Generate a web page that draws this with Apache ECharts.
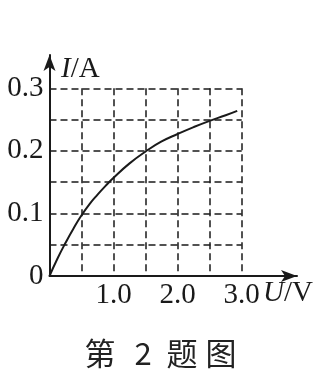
<!DOCTYPE html>
<html>
<head>
<meta charset="utf-8">
<script src="https://cdn.jsdelivr.net/npm/echarts@6/dist/echarts.min.js"></script>
<style>html,body{margin:0;padding:0;background:#fff;}#c{width:321px;height:375px;}</style>
</head>
<body>
<div id="c"></div>
<script>
// Data
const voltage = [0, 0.125, 0.25, 0.375, 0.5, 0.625, 0.75, 0.875, 1.0, 1.25, 1.5, 1.75, 2.0, 2.25, 2.5, 2.75, 2.93];
const current = [0, 0.028, 0.053, 0.076, 0.097, 0.115, 0.13, 0.144, 0.157, 0.18, 0.199, 0.215, 0.227, 0.238, 0.248, 0.257, 0.264];
const xTickLabels = ['1.0', '2.0', '3.0'];
const yTickLabels = ['0', '0.1', '0.2', '0.3'];
const titleParts = ['第', '2', '题', '图'];

const serif = '"Liberation Serif", "DejaVu Serif", serif';
const ink = '#1a1a1a';
const fs = 29;

const chart = echarts.init(document.getElementById('c'), null, {renderer: 'canvas'});
const points = voltage.map((u, i) => [u, current[i]]);

chart.setOption({
  backgroundColor: '#fff',
  animation: false,
  title: {
    text: '{c|' + titleParts[0] + '} {d|' + titleParts[1] + '} {c|' + titleParts[2] + '}{c|' + titleParts[3] + '}',
    left: 'center',
    top: 333,
    textStyle: {
      fontFamily: '"Noto Sans CJK SC", sans-serif', fontSize: 31, fontWeight: 'normal', color: '#222',
      rich: {
        c: {fontFamily: '"Noto Sans CJK SC", sans-serif', fontSize: 31, color: '#222', padding: [0, 4, 0, 4]},
        d: {fontFamily: '"Noto Sans CJK SC", sans-serif', fontSize: 31, color: '#222', padding: [0, 4, 0, 8]}
      }
    }
  },
  grid: [
    {left: 49.5, top: 88.3, width: 192.2, height: 187.7},
    {left: 49.5, top: 55, width: 247.5, height: 221}
  ],
  xAxis: [
    {
      gridIndex: 0, type: 'value', min: 0, max: 3, interval: 0.5,
      axisLine: {show: false}, axisTick: {show: false},
      splitLine: {show: true, lineStyle: {color: ink, width: 1.5, type: [7, 4]}},
      axisLabel: {
        margin: 5, fontFamily: serif, fontSize: fs, color: ink,
        formatter: v => { const s = v.toFixed(1); return xTickLabels.includes(s) ? s : ''; }
      }
    },
    {
      gridIndex: 1, type: 'value', min: 0, max: 3.863,
      axisLine: {show: true, symbol: ['none', 'arrow'], symbolSize: [9, 16], lineStyle: {color: ink, width: 2}},
      axisTick: {show: false}, axisLabel: {show: false}, splitLine: {show: false}
    }
  ],
  yAxis: [
    {
      gridIndex: 0, type: 'value', min: 0, max: 0.3, interval: 0.05,
      axisLine: {show: false}, axisTick: {show: false},
      splitLine: {show: true, lineStyle: {color: ink, width: 1.5, type: [7, 4]}},
      axisLabel: {
        margin: 6, fontFamily: serif, fontSize: fs, color: ink,
        formatter: v => { const r = Math.round(v * 100) / 100; const s = r === 0 ? '0' : r.toFixed(1); return (yTickLabels.includes(s) && Math.abs(v * 10 - Math.round(v * 10)) < 1e-6) ? s : ''; }
      }
    },
    {
      gridIndex: 1, type: 'value', min: 0, max: 0.3532,
      axisLine: {show: true, symbol: ['none', 'arrow'], symbolSize: [9, 16], lineStyle: {color: ink, width: 2}},
      axisTick: {show: false}, axisLabel: {show: false}, splitLine: {show: false}
    }
  ],
  graphic: [
    {
      type: 'text', left: 61, top: 55,
      style: {
        text: '{i|I}/A', fill: ink,
        font: fs + 'px ' + serif,
        rich: {i: {fontStyle: 'italic', fontFamily: serif, fontSize: fs, fill: ink}}
      }
    },
    {
      type: 'text', left: 263, top: 279,
      style: {
        text: '{i|U}/V', fill: ink,
        font: fs + 'px ' + serif,
        rich: {i: {fontStyle: 'italic', fontFamily: serif, fontSize: fs, fill: ink}}
      }
    }
  ],
  series: [
    {
      type: 'line', xAxisIndex: 0, yAxisIndex: 0, data: points,
      smooth: true, showSymbol: false, symbol: 'none',
      lineStyle: {color: ink, width: 2}, clip: false
    }
  ]
});
</script>
</body>
</html>
